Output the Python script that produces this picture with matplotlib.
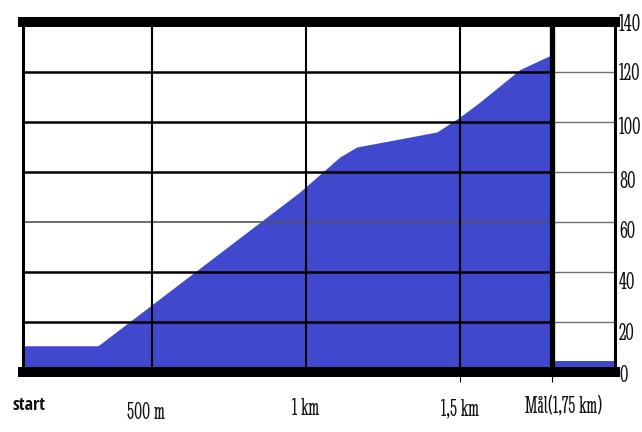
import matplotlib
matplotlib.use('Agg')
import matplotlib.pyplot as plt
import matplotlib.transforms as mtransforms

# profil: avstånd (m) och höjd (m)
dist = [83, 325, 980, 1110, 1165, 1425, 1500, 1565, 1695, 1800]
elev = [10.5, 10.5, 72, 86, 90, 96, 102, 108, 121, 127]
after_dist = [1800, 2005]
after_elev = [4.4, 4.4]

finish = 1800
grid_x = [500, 1000, 1500]
grid_y = [20, 40, 60, 80, 100, 120]
y_ticks = [0, 20, 40, 60, 80, 100, 120, 140]
x_label_pos = [480, 1000, 1500, 1836]
x_labels = ['500 m', '1 km', '1,5 km', 'Mål(1,75 km)']

blue = '#4049cd'
serif_c = ['Stint Ultra Condensed', 'Liberation Serif']

fig = plt.figure(figsize=(6.42, 4.32), dpi=100)
ax = fig.add_axes([0.0366, 0.1389, 0.9221, 0.8102])
ax.set_xlim(83, 2005)
ax.set_ylim(0, 140)

ax.fill_between(dist, elev, 0, color=blue, lw=0, zorder=1)
ax.fill_between(after_dist, after_elev, 0, color=blue, lw=0, zorder=1)

for y in grid_y:
    if y == 60:
        ax.plot([83, finish], [y, y], color='#555555', lw=1.2, zorder=2)
    else:
        ax.plot([83, finish], [y, y], color='black', lw=1.8, zorder=2)
    ax.plot([finish, 2005], [y, y], color='#707070', lw=1.0, zorder=2)
for x in grid_x:
    ax.axvline(x, color='black', lw=1.5, zorder=2)
ax.axvline(finish, color='black', lw=3.8, zorder=3)

for side in ['left', 'right']:
    ax.spines[side].set_linewidth(2.2)
for side in ['top', 'bottom']:
    ax.spines[side].set_linewidth(7.2)
for s in ax.spines.values():
    s.set_zorder(4)

ax.set_yticks([])
ax.set_xticks([1500, finish])
ax.set_xticklabels(['', ''])
ax.tick_params(axis='x', length=7, width=0.8, direction='out')

# höjdetiketter till höger, lite under respektive linje
y_offsets = [-4, -12, -11, -10, -10, -6, -2, -3]
for y, off in zip(y_ticks, y_offsets):
    tr = ax.get_yaxis_transform() + mtransforms.ScaledTranslation(0, off / 100, fig.dpi_scale_trans)
    ax.text(1.006, y, str(y), transform=tr, ha='left', va='center',
            family=serif_c, fontsize=18, color='#111111')

ax.text(-0.019, -0.069, 'start', transform=ax.transAxes, ha='left', va='top',
        family=['Open Sans Condensed', 'DejaVu Sans'], fontweight='bold',
        fontsize=13, color='#111111')
for x, lab, dy in zip(x_label_pos, x_labels, [-0.085, -0.075, -0.075, -0.07]):
    ax.text(x, dy, lab, transform=ax.get_xaxis_transform(), ha='center',
            va='top', family=serif_c, fontsize=17, color='#111111')

fig.savefig('out.png', dpi=100)
